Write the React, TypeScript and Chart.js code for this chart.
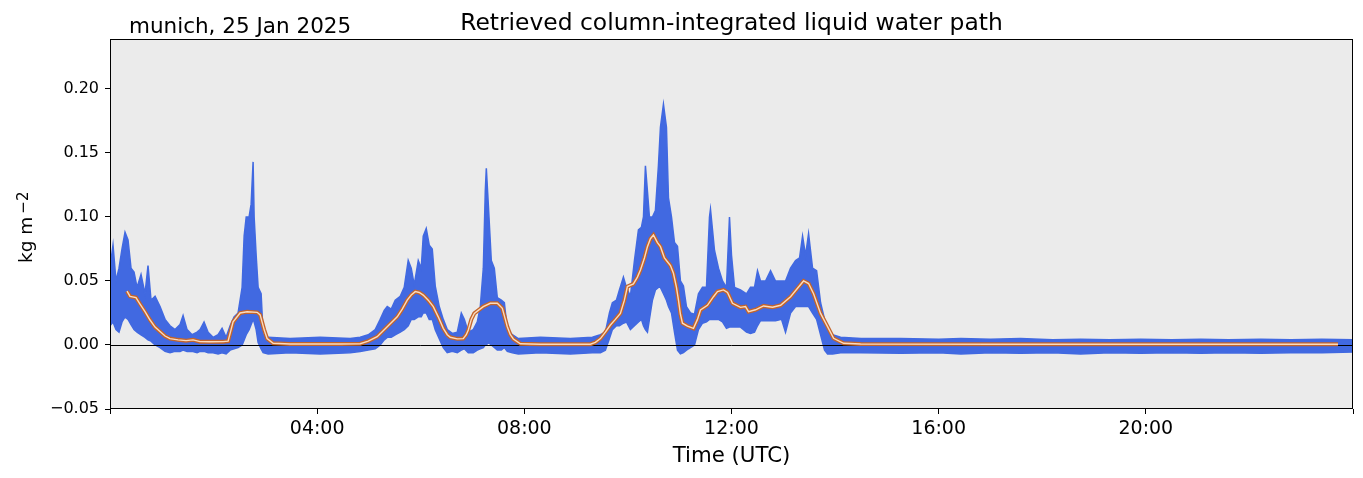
import React, { useEffect, useRef } from 'react';
import { Chart, registerables } from 'chart.js';
Chart.register(...registerables);

// ---- data (hours UTC, kg m^-2) ----
const rawTimes = [
  0.000, 0.058, 0.116, 0.174, 0.232, 0.290, 0.348, 0.406, 0.464, 0.522, 0.599, 0.676, 0.734, 0.792, 0.870, 0.966,
  1.063, 1.159, 1.256, 1.353, 1.411, 1.488, 1.585, 1.681, 1.739, 1.816, 1.894, 1.990, 2.087, 2.164, 2.242, 2.319,
  2.396, 2.473, 2.551, 2.590, 2.630, 2.686, 2.725, 2.763, 2.783, 2.822, 2.860, 2.918, 2.957, 3.053, 3.478, 4.058, 4.638, 4.831,
  4.986, 5.121, 5.217, 5.295, 5.353, 5.430, 5.507, 5.604, 5.681, 5.758, 5.816, 5.874, 5.952, 6.010, 6.048, 6.106,
  6.164, 6.222, 6.280, 6.357, 6.435, 6.512, 6.609, 6.705, 6.783, 6.841, 6.918, 7.014, 7.092, 7.150, 7.208, 7.246,
  7.266, 7.304, 7.362, 7.420, 7.478, 7.556, 7.614, 7.671, 7.768, 7.884, 8.309, 8.889, 9.314, 9.469, 9.565, 9.643,
  9.700, 9.778, 9.836, 9.913, 9.971, 10.048, 10.126, 10.203, 10.261, 10.300, 10.338, 10.377, 10.415, 10.473, 10.531, 10.589,
  10.628, 10.686, 10.744, 10.783, 10.841, 10.899, 10.957, 11.014, 11.072, 11.130, 11.208, 11.285, 11.362, 11.440, 11.517, 11.575,
  11.594, 11.633, 11.671, 11.749, 11.826, 11.903, 11.961, 12.000, 12.058, 12.174, 12.290, 12.367, 12.444, 12.502, 12.560, 12.657,
  12.754, 12.850, 12.966, 13.043, 13.140, 13.237, 13.314, 13.372, 13.430, 13.488, 13.565, 13.643, 13.720, 13.797, 13.855, 13.952,
  14.106, 14.500, 15.270, 16.000, 16.430, 17.000, 17.580, 18.200, 18.740, 19.300, 19.900, 20.500, 21.060, 21.600, 22.220, 22.800,
  23.400, 24.000,
];
const rawUpper = [
  0.060, 0.078, 0.050, 0.060, 0.075, 0.088, 0.082, 0.060, 0.057, 0.045, 0.055, 0.040, 0.062, 0.035, 0.038, 0.030,
  0.020, 0.015, 0.012, 0.016, 0.023, 0.012, 0.008, 0.010, 0.012, 0.018, 0.010, 0.006, 0.008, 0.013, 0.006, 0.015,
  0.022, 0.025, 0.045, 0.085, 0.100, 0.100, 0.110, 0.143, 0.100, 0.070, 0.045, 0.040, 0.008, 0.006, 0.005, 0.006, 0.005, 0.006,
  0.008, 0.012, 0.020, 0.027, 0.030, 0.028, 0.035, 0.038, 0.045, 0.066, 0.060, 0.047, 0.066, 0.060, 0.085, 0.091,
  0.078, 0.075, 0.046, 0.030, 0.020, 0.012, 0.009, 0.010, 0.025, 0.020, 0.010, 0.012, 0.018, 0.030, 0.060, 0.120,
  0.138, 0.110, 0.066, 0.060, 0.037, 0.035, 0.033, 0.012, 0.008, 0.005, 0.006, 0.005, 0.006, 0.008, 0.010, 0.025,
  0.033, 0.035, 0.043, 0.053, 0.045, 0.038, 0.066, 0.090, 0.092, 0.100, 0.140, 0.120, 0.100, 0.100, 0.105, 0.140,
  0.170, 0.188, 0.170, 0.115, 0.100, 0.080, 0.077, 0.050, 0.046, 0.030, 0.025, 0.024, 0.040, 0.045, 0.045, 0.100,
  0.106, 0.090, 0.074, 0.060, 0.050, 0.045, 0.100, 0.070, 0.045, 0.043, 0.040, 0.045, 0.045, 0.058, 0.050, 0.050,
  0.058, 0.050, 0.050, 0.050, 0.060, 0.066, 0.068, 0.085, 0.070, 0.087, 0.060, 0.058, 0.033, 0.020, 0.012, 0.008,
  0.006, 0.005, 0.005, 0.0045, 0.005, 0.0045, 0.005, 0.004, 0.0045, 0.004, 0.0045, 0.004, 0.0045, 0.004, 0.0045, 0.004,
  0.0045, 0.004,
];
const rawLower = [
  0.015, 0.018, 0.012, 0.010, 0.018, 0.022, 0.020, 0.016, 0.012, 0.010, 0.008, 0.006, 0.004, 0.003, 0.000, -0.002,
  -0.005, -0.006, -0.005, -0.005, -0.004, -0.005, -0.005, -0.006, -0.005, -0.005, -0.006, -0.006, -0.007, -0.006, -0.007, -0.004,
  -0.003, -0.002, 0.000, 0.004, 0.008, 0.012, 0.016, 0.020, 0.018, 0.012, 0.002, -0.003, -0.006, -0.007, -0.006, -0.007, -0.006, -0.005,
  -0.004, -0.003, 0.000, 0.004, 0.006, 0.006, 0.008, 0.010, 0.012, 0.015, 0.020, 0.020, 0.022, 0.022, 0.025, 0.025,
  0.020, 0.020, 0.012, 0.005, -0.002, -0.006, -0.005, -0.006, -0.004, -0.003, -0.006, -0.006, -0.004, -0.003, -0.002, 0.000,
  0.000, 0.002, 0.000, -0.002, -0.004, -0.004, -0.002, -0.005, -0.006, -0.007, -0.006, -0.007, -0.006, -0.006, -0.004, 0.005,
  0.012, 0.015, 0.015, 0.017, 0.018, 0.012, 0.015, 0.018, 0.020, 0.015, 0.012, 0.010, 0.020, 0.035, 0.043, 0.045,
  0.045, 0.040, 0.035, 0.030, 0.025, 0.010, -0.004, -0.007, -0.006, -0.004, -0.002, 0.000, 0.012, 0.017, 0.018, 0.020,
  0.020, 0.020, 0.020, 0.020, 0.018, 0.013, 0.014, 0.014, 0.014, 0.014, 0.010, 0.009, 0.010, 0.015, 0.019, 0.019,
  0.019, 0.019, 0.020, 0.010, 0.025, 0.030, 0.030, 0.030, 0.030, 0.030, 0.025, 0.020, 0.008, -0.004, -0.007, -0.007,
  -0.006, -0.006, -0.0065, -0.006, -0.007, -0.006, -0.0065, -0.006, -0.007, -0.006, -0.0065, -0.006, -0.0065, -0.006, -0.0065, -0.006,
  -0.006, -0.0055,
];
const meanTimes = [
  0.329, 0.386, 0.502, 0.580, 0.676, 0.773, 0.870, 0.966, 1.063, 1.159, 1.314, 1.469, 1.604, 1.739, 1.932, 2.184,
  2.280, 2.377, 2.512, 2.647, 2.841, 2.899, 2.976, 3.034, 3.150, 3.478, 4.444, 4.831, 4.986, 5.159, 5.353, 5.546,
  5.643, 5.739, 5.816, 5.894, 5.971, 6.048, 6.145, 6.242, 6.338, 6.435, 6.512, 6.570, 6.705, 6.821, 6.879, 6.918,
  6.976, 7.034, 7.111, 7.208, 7.343, 7.478, 7.575, 7.633, 7.671, 7.730, 7.788, 7.923, 8.309, 9.275, 9.372, 9.469,
  9.565, 9.662, 9.758, 9.855, 9.932, 9.990, 10.106, 10.184, 10.242, 10.319, 10.377, 10.435, 10.493, 10.570, 10.628, 10.705,
  10.763, 10.821, 10.879, 10.937, 10.976, 11.014, 11.053, 11.150, 11.266, 11.343, 11.401, 11.536, 11.652, 11.729, 11.845, 11.923,
  12.019, 12.174, 12.271, 12.329, 12.464, 12.618, 12.792, 12.947, 13.140, 13.275, 13.391, 13.488, 13.585, 13.720, 13.855, 13.971,
  14.164, 14.493, 17.200, 20.100, 23.710,
];
const meanValues = [
  0.042, 0.038, 0.037, 0.032, 0.026, 0.0195, 0.014, 0.0105, 0.007, 0.005, 0.004, 0.0034, 0.004, 0.0026, 0.0025, 0.0026,
  0.003, 0.018, 0.025, 0.026, 0.0255, 0.0235, 0.012, 0.005, 0.0013, 0.0008, 0.0008, 0.001, 0.003, 0.0065, 0.0143, 0.022,
  0.028, 0.035, 0.039, 0.0417, 0.041, 0.039, 0.035, 0.030, 0.022, 0.013, 0.008, 0.006, 0.0048, 0.005, 0.008, 0.0117,
  0.020, 0.0247, 0.027, 0.030, 0.0326, 0.0326, 0.0286, 0.020, 0.0143, 0.008, 0.0047, 0.001, 0.0006, 0.0006, 0.002, 0.005,
  0.010, 0.0156, 0.020, 0.0247, 0.035, 0.0456, 0.0477, 0.053, 0.0586, 0.068, 0.0768, 0.083, 0.0859, 0.080, 0.0768, 0.068,
  0.065, 0.062, 0.056, 0.045, 0.035, 0.024, 0.017, 0.0148, 0.013, 0.020, 0.0273, 0.031, 0.0377, 0.0417, 0.043, 0.041,
  0.0326, 0.0294, 0.030, 0.026, 0.0275, 0.0305, 0.0295, 0.031, 0.0377, 0.0443, 0.050, 0.048, 0.040, 0.0247, 0.0143, 0.0052,
  0.0013, 0.0008, 0.0006, 0.0006, 0.0006,
];
const xTickHours = [0, 4, 8, 12, 16, 20, 24];
const xTickLabels = ['', '04:00', '08:00', '12:00', '16:00', '20:00', ''];
const yTickValues = [-0.05, 0.0, 0.05, 0.1, 0.15, 0.2];
const yMin = -0.05;
const yMax = 0.239;
const titleText = 'Retrieved column-integrated liquid water path';
const siteText = 'munich, 25 Jan 2025';
const xLabelText = 'Time (UTC)';
const yLabelBase = 'kg m';
const yLabelSup = '\u22122';

const FONT = "'DejaVu Sans', sans-serif";

const decorPlugin = {
  id: 'decor',
  beforeDraw(chart: any) {
    const { ctx, chartArea: a } = chart;
    ctx.save();
    ctx.fillStyle = '#ebebeb';
    ctx.fillRect(a.left, a.top, a.right - a.left, a.bottom - a.top);
    ctx.restore();
  },
  afterDatasetDraw(chart: any, args: any) {
    if (args.index !== 1) return;
    const { ctx, chartArea: a, scales } = chart;
    const y = Math.round(scales.y.getPixelForValue(0)) + 0.5;
    ctx.save();
    ctx.strokeStyle = '#000';
    ctx.lineWidth = 1;
    ctx.beginPath();
    ctx.moveTo(a.left, y);
    ctx.lineTo(a.right, y);
    ctx.stroke();
    ctx.restore();
  },
  afterDraw(chart: any) {
    const { ctx, chartArea: a } = chart;
    ctx.save();
    ctx.strokeStyle = '#000';
    ctx.lineWidth = 1;
    ctx.strokeRect(a.left + 0.5, a.top + 0.5, a.right - a.left - 1, a.bottom - a.top - 1);
    ctx.fillStyle = '#000';
    ctx.textBaseline = 'alphabetic';
    ctx.font = `23.4px ${FONT}`;
    ctx.textAlign = 'center';
    ctx.fillText(titleText, (a.left + a.right) / 2, 30);
    ctx.font = `21.5px ${FONT}`;
    ctx.textAlign = 'left';
    ctx.fillText(siteText, 129, 33);
    ctx.font = `21.3px ${FONT}`;
    ctx.textAlign = 'center';
    ctx.fillText(xLabelText, (a.left + a.right) / 2, 462);
    // rotated y label with superscript
    ctx.translate(32, 263);
    ctx.rotate(-Math.PI / 2);
    ctx.textAlign = 'left';
    ctx.font = `18.5px ${FONT}`;
    ctx.fillText(yLabelBase, 0, 0);
    const w = ctx.measureText(yLabelBase).width;
    ctx.font = `15px ${FONT}`;
    ctx.fillText(yLabelSup, w + 3, -4);
    ctx.restore();
  },
};

export default function App() {
  const ref = useRef<HTMLCanvasElement | null>(null);
  useEffect(() => {
    document.body.style.margin = '0';
    const canvas = ref.current!;
    const pts = (xs: number[], ys: number[]) => xs.map((x, i) => ({ x, y: ys[i] }));
    const chart = new Chart(canvas, {
      type: 'line',
      data: {
        datasets: [
          {
            data: pts(rawTimes, rawLower),
            borderColor: '#4169e1',
            borderWidth: 1.5,
            pointRadius: 0,
            fill: false,
            order: 5,
          },
          {
            data: pts(rawTimes, rawUpper),
            borderColor: '#4169e1',
            backgroundColor: '#4169e1',
            borderWidth: 1.5,
            pointRadius: 0,
            fill: '-1',
            order: 4,
          },
          {
            data: pts(meanTimes, meanValues),
            borderColor: '#c4642a',
            borderWidth: 4,
            pointRadius: 0,
            fill: false,
            order: 2,
          },
          {
            data: pts(meanTimes, meanValues),
            borderColor: '#fadcc0',
            borderWidth: 1.4,
            pointRadius: 0,
            fill: false,
            order: 1,
          },
        ] as any,
      },
      options: {
        responsive: false,
        devicePixelRatio: 1,
        animation: false,
        layout: { padding: { left: 0, top: 39, right: 10, bottom: 0 } },
        plugins: { legend: { display: false }, tooltip: { enabled: false }, title: { display: false } },
        elements: { line: { tension: 0 } },
        scales: {
          x: {
            type: 'linear',
            min: 0,
            max: 24,
            afterFit: (s: any) => { s.height = 69; },
            afterBuildTicks: (s: any) => { s.ticks = xTickHours.map((v) => ({ value: v })); },
            ticks: {
              autoSkip: false,
              maxRotation: 0,
              color: '#000',
              font: { family: FONT, size: 19 },
              padding: 4,
              callback: (_v: any, i: number) => xTickLabels[i],
            },
            grid: { drawOnChartArea: false, drawTicks: true, tickLength: 5, color: '#000' },
            border: { display: false },
          },
          y: {
            type: 'linear',
            min: yMin,
            max: yMax,
            afterFit: (s: any) => { s.width = 110; },
            afterBuildTicks: (s: any) => { s.ticks = yTickValues.map((v) => ({ value: v })); },
            ticks: {
              color: '#000',
              font: { family: FONT, size: 16 },
              padding: 6,
              callback: (v: any) => {
                const n = Number(v);
                return n < -1e-9 ? '\u2212' + Math.abs(n).toFixed(2) : Math.abs(n).toFixed(2);
              },
            },
            grid: { drawOnChartArea: false, drawTicks: true, tickLength: 5, color: '#000' },
            border: { display: false },
          },
        },
      } as any,
      plugins: [decorPlugin],
    });
    return () => chart.destroy();
  }, []);
  return (
    <div style={{ width: 1363, height: 478 }}>
      <canvas ref={ref} width={1363} height={478} style={{ display: 'block' }} />
    </div>
  );
}
